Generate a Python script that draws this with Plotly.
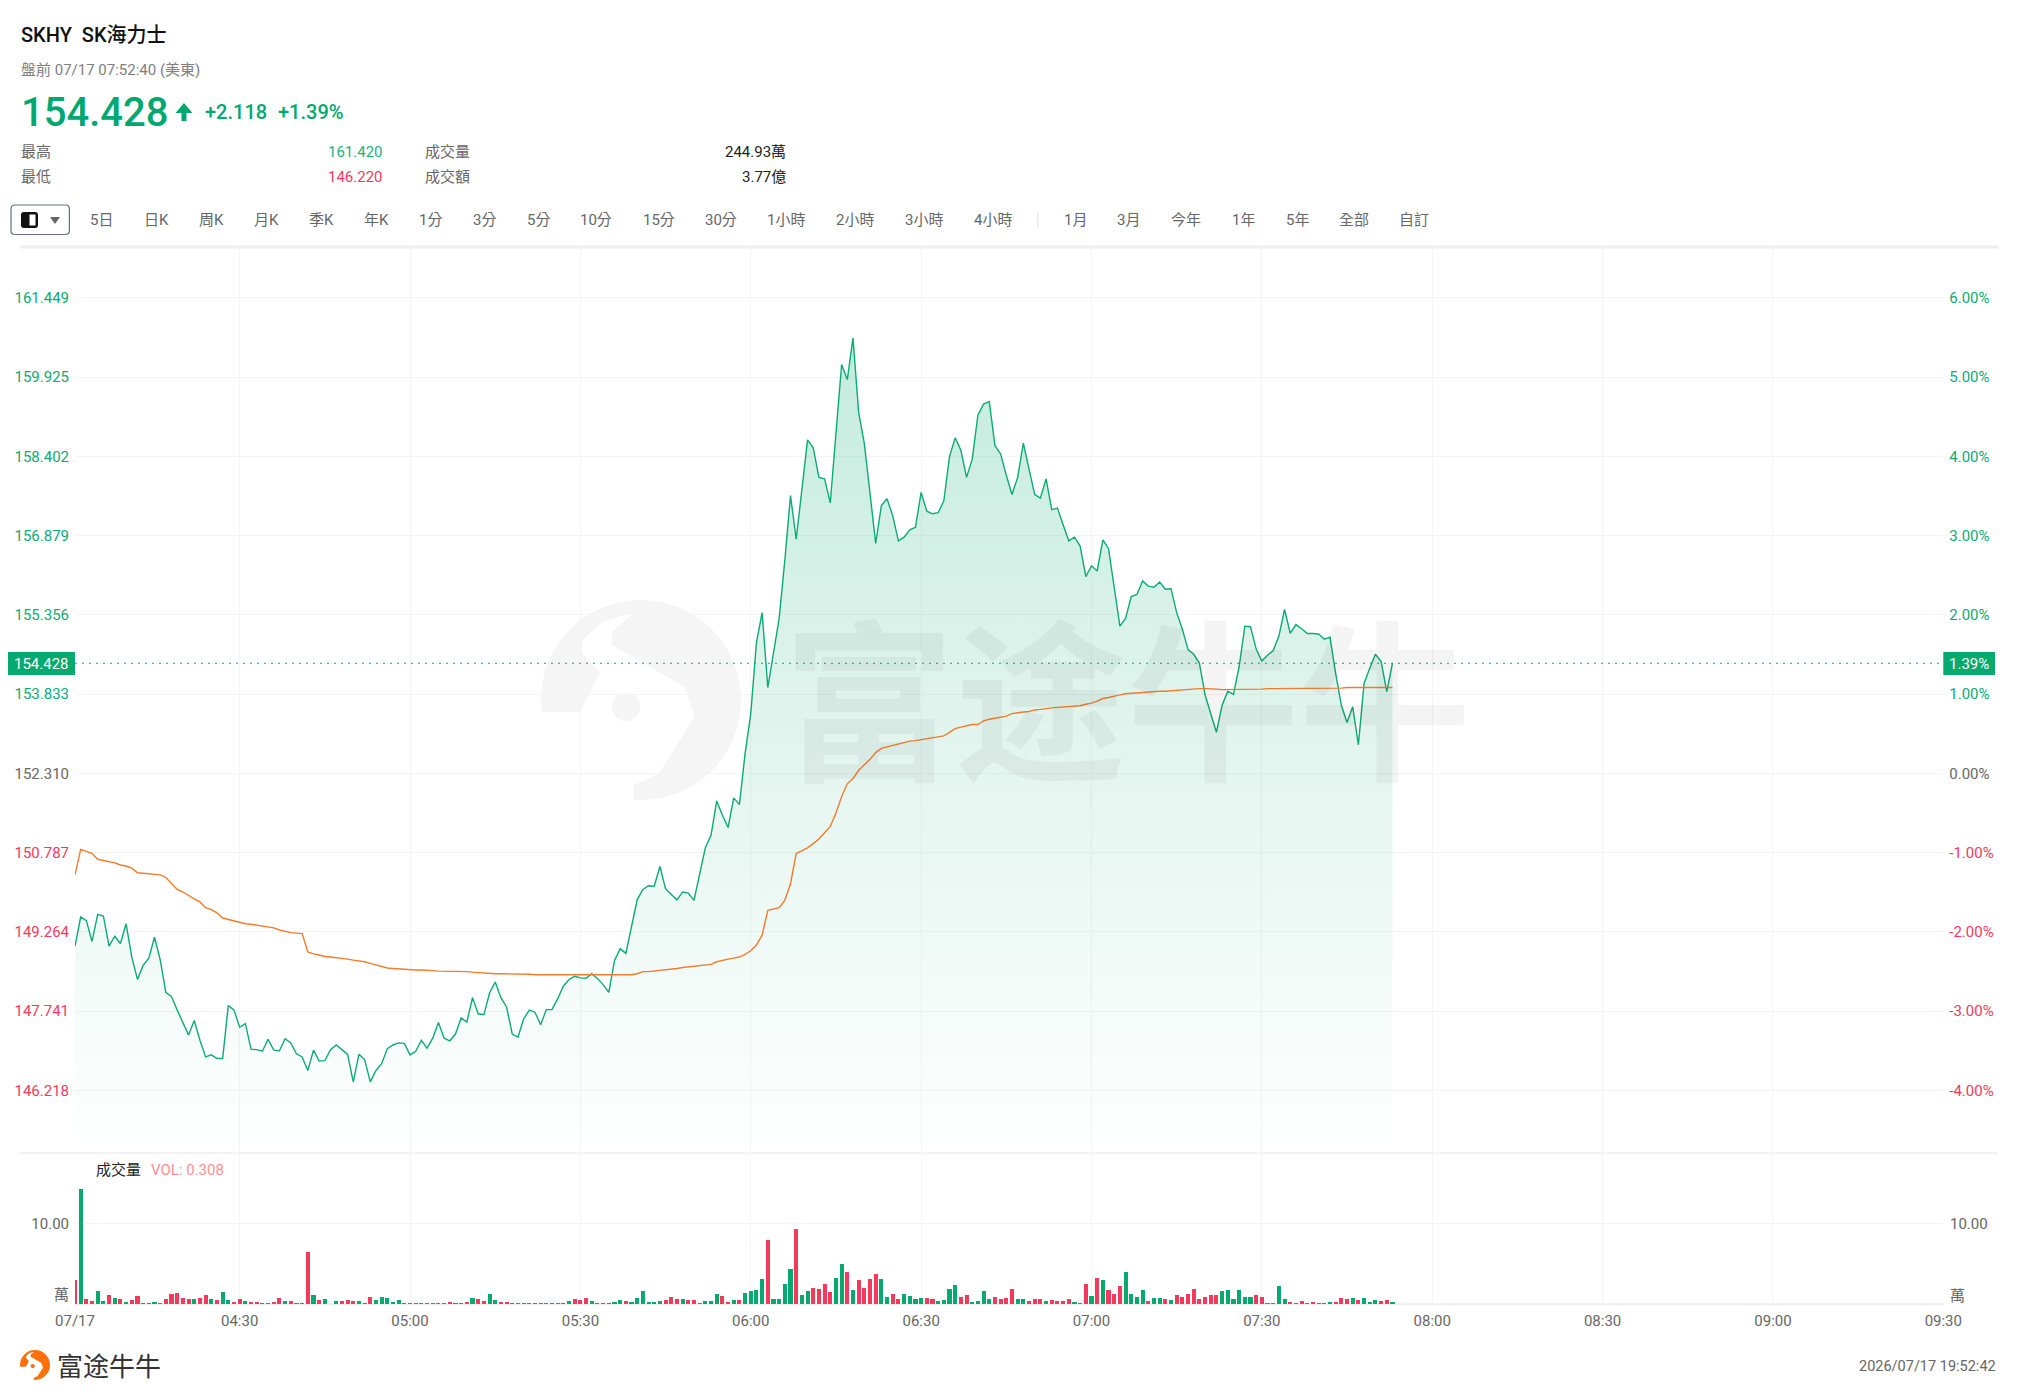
import plotly.graph_objects as go

W, H = 2018, 1399
FONT = "Roboto, 'Noto Sans CJK TC', sans-serif"
GREEN, RED, ORANGE = "#0aab76", "#f5395c", "#f47b2c"
BAR_GREEN, BAR_RED = "#06a96e", "#f33a5a"
GRID = "#f4f4f4"

# minute of session (minutes after 04:00), one per sample
minutes = list(range(1, 234))

price = [
    148.99, 149.55, 149.48, 149.08, 149.60, 149.57, 148.99, 149.18, 149.04, 149.42,
    148.78, 148.35, 148.62, 148.76, 149.16, 148.73, 148.10, 148.02, 147.76, 147.52,
    147.28, 147.56, 147.18, 146.86, 146.90, 146.83, 146.83, 147.85, 147.76, 147.43,
    147.50, 147.01, 147.00, 146.97, 147.20, 146.99, 146.98, 147.21, 147.13, 146.92,
    146.86, 146.60, 146.99, 146.78, 146.79, 147.00, 147.09, 147.00, 146.91, 146.38,
    146.91, 146.81, 146.38, 146.60, 146.73, 147.02, 147.09, 147.13, 147.12, 146.90,
    146.97, 147.18, 147.03, 147.22, 147.52, 147.22, 147.17, 147.30, 147.61, 147.53,
    148.00, 147.69, 147.67, 148.09, 148.30, 148.00, 147.82, 147.30, 147.24, 147.59,
    147.76, 147.72, 147.48, 147.77, 147.77, 147.98, 148.22, 148.35, 148.41, 148.38,
    148.37, 148.46, 148.37, 148.25, 148.10, 148.71, 148.94, 148.85, 149.36, 149.88,
    150.08, 150.15, 150.14, 150.52, 150.09, 149.99, 149.88, 150.03, 150.01, 149.87,
    150.38, 150.88, 151.12, 151.78, 151.51, 151.27, 151.84, 151.71, 152.69, 153.46,
    154.83, 155.40, 153.96, 154.62, 155.29, 156.41, 157.65, 156.81, 157.76, 158.72,
    158.57, 158.00, 157.97, 157.51, 158.84, 160.17, 159.88, 160.68, 159.25, 158.65,
    157.69, 156.73, 157.46, 157.59, 157.26, 156.78, 156.85, 156.99, 157.04, 157.71,
    157.35, 157.30, 157.32, 157.55, 158.40, 158.76, 158.52, 158.00, 158.35, 159.20,
    159.41, 159.46, 158.61, 158.45, 158.04, 157.67, 158.00, 158.66, 158.16, 157.67,
    157.60, 157.97, 157.38, 157.41, 157.09, 156.78, 156.85, 156.68, 156.09, 156.30,
    156.20, 156.80, 156.63, 155.84, 155.14, 155.29, 155.71, 155.75, 156.01, 155.91,
    155.89, 155.99, 155.85, 155.86, 155.40, 155.08, 154.69, 154.60, 154.43, 153.82,
    153.46, 153.10, 153.62, 153.89, 153.83, 154.36, 155.14, 155.13, 154.70, 154.47,
    154.58, 154.67, 154.95, 155.46, 155.00, 155.17, 155.09, 155.00, 155.00, 154.99,
    154.89, 154.93, 154.23, 153.62, 153.29, 153.59, 152.86, 154.04, 154.33, 154.60,
    154.46, 153.88, 154.428,
]

avg_price = [
    150.36, 150.85, 150.81, 150.77, 150.66, 150.64, 150.62, 150.59, 150.55, 150.53,
    150.49, 150.40, 150.39, 150.38, 150.38, 150.36, 150.31, 150.20, 150.08, 150.03,
    149.96, 149.90, 149.84, 149.73, 149.69, 149.63, 149.53, 149.50, 149.48, 149.45,
    149.42, 149.41, 149.39, 149.38, 149.36, 149.34, 149.30, 149.27, 149.25, 149.24,
    149.23, 148.88, 148.84, 148.82, 148.79, 148.78, 148.77, 148.76, 148.74, 148.72,
    148.71, 148.69, 148.66, 148.63, 148.60, 148.57, 148.56, 148.55, 148.55, 148.54,
    148.53, 148.53, 148.53, 148.52, 148.51, 148.51, 148.51, 148.50, 148.50, 148.50,
    148.49, 148.48, 148.48, 148.47, 148.46, 148.46, 148.46, 148.45, 148.45, 148.45,
    148.45, 148.44, 148.44, 148.44, 148.44, 148.44, 148.44, 148.44, 148.44, 148.43,
    148.43, 148.43, 148.43, 148.43, 148.43, 148.44, 148.44, 148.44, 148.44, 148.46,
    148.50, 148.50, 148.51, 148.52, 148.53, 148.55, 148.56, 148.58, 148.59, 148.60,
    148.61, 148.62, 148.64, 148.69, 148.72, 148.74, 148.76, 148.78, 148.83, 148.90,
    149.01, 149.20, 149.68, 149.71, 149.73, 149.87, 150.19, 150.77, 150.82, 150.88,
    150.96, 151.05, 151.17, 151.29, 151.55, 151.86, 152.11, 152.21, 152.37, 152.47,
    152.58, 152.71, 152.79, 152.82, 152.85, 152.87, 152.91, 152.93, 152.94, 152.96,
    152.98, 153.00, 153.02, 153.03, 153.10, 153.17, 153.20, 153.23, 153.25, 153.25,
    153.32, 153.35, 153.37, 153.39, 153.41, 153.46, 153.48, 153.49, 153.50, 153.53,
    153.54, 153.56, 153.57, 153.58, 153.59, 153.60, 153.60, 153.61, 153.64, 153.66,
    153.70, 153.75, 153.77, 153.80, 153.82, 153.84, 153.85, 153.86, 153.87, 153.875,
    153.88, 153.89, 153.89, 153.90, 153.91, 153.92, 153.92, 153.94, 153.94, 153.94,
    153.94, 153.93, 153.92, 153.92, 153.92, 153.925, 153.93, 153.93, 153.93, 153.93,
    153.94, 153.94, 153.95, 153.95, 153.95, 153.95, 153.95, 153.95, 153.95, 153.95,
    153.95, 153.95, 153.95, 153.95, 153.96, 153.96, 153.96, 153.96, 153.96, 153.96,
    153.96, 153.96, 153.96,
]

# volume, in units of 10 thousand shares
volume = [
    3.0, 14.2, 0.7, 0.37, 1.7, 0.41, 1.1, 0.75, 0.66, 0.33,
    0.54, 1.07, 0.2, 0.12, 0.25, 0.2, 0.7, 1.24, 1.45, 0.83,
    0.7, 0.7, 0.79, 1.2, 0.62, 0.58, 1.49, 0.54, 0.33, 0.66,
    0.45, 0.25, 0.33, 0.17, 0.2, 0.29, 0.74, 0.37, 0.37, 0.2,
    0.17, 6.4, 1.12, 0.5, 0.7, 0.08, 0.37, 0.37, 0.5, 0.41,
    0.37, 0.17, 0.95, 0.58, 0.87, 0.83, 0.33, 0.5, 0.2, 0.2,
    0.17, 0.12, 0.2, 0.12, 0.17, 0.12, 0.33, 0.12, 0.12, 0.29,
    0.83, 0.62, 0.37, 1.32, 0.58, 0.25, 0.29, 0.2, 0.17, 0.2,
    0.12, 0.12, 0.12, 0.12, 0.2, 0.12, 0.2, 0.37, 0.7, 0.5,
    0.79, 0.41, 0.12, 0.17, 0.12, 0.33, 0.54, 0.41, 0.25, 0.74,
    1.7, 0.25, 0.25, 0.45, 0.54, 0.9, 0.66, 0.62, 0.5, 0.5,
    0.2, 0.45, 0.45, 1.32, 1.07, 0.33, 0.54, 0.58, 1.4, 1.6,
    1.78, 3.1, 8.0, 0.7, 0.62, 2.48, 4.3, 9.26, 1.2, 1.6,
    2.02, 1.9, 2.48, 1.57, 3.3, 4.92, 3.97, 1.78, 3.06, 1.98,
    3.1, 3.76, 3.1, 0.95, 1.24, 0.62, 1.32, 1.0, 0.62, 0.74,
    0.74, 0.62, 0.37, 0.58, 1.86, 2.36, 0.95, 1.16, 0.33, 0.45,
    1.7, 0.7, 0.87, 0.7, 0.74, 1.86, 0.7, 0.7, 0.45, 0.66,
    0.66, 0.37, 0.58, 0.41, 0.37, 0.66, 0.33, 0.2, 2.48, 1.0,
    3.22, 3.06, 1.82, 1.24, 2.23, 3.93, 1.32, 0.95, 1.74, 0.41,
    0.74, 0.83, 0.66, 0.58, 1.12, 0.87, 1.24, 1.86, 0.7, 0.9,
    1.12, 1.16, 1.7, 1.74, 0.66, 1.74, 0.9, 0.9, 1.12, 0.87,
    0.2, 0.2, 2.23, 0.66, 0.33, 0.12, 0.37, 0.2, 0.29, 0.12,
    0.2, 0.25, 0.33, 0.74, 0.7, 0.74, 0.54, 0.79, 0.33, 0.5,
    0.37, 0.58, 0.308,
]

volume_side = list(
    "rgrrggrgrg" "rrgggrrrrr" "rgrrgrggrr" "grrggrrgrr" "rrgrgggrrr"
    "grrgggggrr" "ggrrgrrggr" "grrggrrrrg" "grrgggggrr" "rgrrrggrgg"
    "ggggrrrgrr" "ggggrrgrgg" "ggrggggrgg" "rrrrggrgrr" "rrggrrgggg"
    "rrggggrrgg" "ggrrrrggrr" "rgrrrrgrrg" "rgrrrggggr" "ggrgrrrrrr"
    "rrggggggrr" "ggggrgrrrg" "rgrrrgrggg" "rrg"
)

prev_close = 152.31
price_ticks = [161.449, 159.925, 158.402, 156.879, 155.356, 153.833, 152.310, 150.787, 149.264, 147.741, 146.218]
price_tick_labels = ["161.449", "159.925", "158.402", "156.879", "155.356", "153.833", "152.310", "150.787", "149.264", "147.741", "146.218"]
pct_ticks = [6, 5, 4, 3, 2, 1, 0, -1, -2, -3, -4]
pct_tick_labels = ["6.00%", "5.00%", "4.00%", "3.00%", "2.00%", "1.00%", "0.00%", "-1.00%", "-2.00%", "-3.00%", "-4.00%"]
time_ticks = [1, 30, 60, 90, 120, 150, 180, 210, 240, 270, 300, 330]
time_tick_labels = ["07/17", "04:30", "05:00", "05:30", "06:00", "06:30", "07:00", "07:30", "08:00", "08:30", "09:00", "09:30"]
toolbar_labels = ["5日", "日K", "周K", "月K", "季K", "年K", "1分", "3分", "5分", "10分", "15分", "30分",
                  "1小時", "2小時", "3小時", "4小時", "1月", "3月", "今年", "1年", "5年", "全部", "自訂"]
toolbar_x = [101.5, 156.6, 211, 266, 321, 376, 430.6, 484, 538, 596, 659, 721,
             786, 855, 924, 993, 1075, 1128.6, 1186, 1243, 1297, 1353.6, 1414]

assert len(price) == len(avg_price) == len(volume) == len(volume_side) == len(minutes)

def X(px): return px / W
def Y(py): return 1 - py / H

def tint(v, label):
    c = GREEN if v > prev_close + 1e-6 else (RED if v < prev_close - 1e-6 else "#666666")
    return f'<span style="color:{c}">{label}</span>'

plot_left, plot_right = 75.0, 1943.3
main_top, main_bottom, vol_bottom = 247.0, 1153.3, 1304.3
x_range = [1, 330]
y_range = [145.008, 162.428]
pct_range = [(v / prev_close - 1) * 100 for v in y_range]
vol_range = [0, (vol_bottom - main_bottom) / 8.1]

fig = go.Figure()
fig.add_trace(go.Scatter(
    x=minutes, y=price, mode="lines", line=dict(color=GREEN, width=1.4),
    fill="tozeroy",
    fillgradient=dict(type="vertical", start=145.0, stop=161.0,
                      colorscale=[[0, "rgba(0,168,111,0)"], [1, "rgba(0,168,111,0.235)"]]),
    hoverinfo="skip", showlegend=False))
fig.add_trace(go.Scatter(x=minutes, y=avg_price, mode="lines",
                         line=dict(color=ORANGE, width=1.4), hoverinfo="skip", showlegend=False))
fig.add_trace(go.Scatter(x=[x_range[0], x_range[1]], y=[price[-1], price[-1]], mode="lines",
                         line=dict(color=GREEN, width=1.1, dash="2px,5px"), hoverinfo="skip", showlegend=False))
fig.add_trace(go.Scatter(x=minutes, y=[(p / prev_close - 1) * 100 for p in price], yaxis="y3", mode="lines",
                         line=dict(color="rgba(0,0,0,0)", width=0), hoverinfo="skip", showlegend=False))
fig.add_trace(go.Bar(x=minutes, y=volume, yaxis="y2", width=0.72,
                     marker=dict(color=[BAR_GREEN if s == "g" else BAR_RED for s in volume_side], line=dict(width=0)),
                     hoverinfo="skip", showlegend=False))

anns, shapes = [], []

def text(x, y, s, size=15, color="#666666", anchor="left", family=FONT, weight=400):
    anns.append(dict(x=X(x), y=Y(y), xref="paper", yref="paper", text=s, showarrow=False,
                     xanchor=anchor, yanchor="middle", borderpad=0,
                     font=dict(size=size, color=color, family=family, weight=weight)))

def path(points, fill, line=None, width=0, layer="above", close=True):
    d = "M " + " L ".join(f"{X(a):.6f},{Y(b):.6f}" for a, b in points) + (" Z" if close else "")
    shapes.append(dict(type="path", xref="paper", yref="paper", path=d, fillcolor=fill, layer=layer,
                       line=dict(color=line or "rgba(0,0,0,0)", width=width)))

def round_rect(x0, y0, x1, y1, r, fill, line=None, width=0):
    def p(a, b): return f"{X(a):.6f},{Y(b):.6f}"
    d = (f"M {p(x0 + r, y0)} L {p(x1 - r, y0)} Q {p(x1, y0)} {p(x1, y0 + r)} L {p(x1, y1 - r)} "
         f"Q {p(x1, y1)} {p(x1 - r, y1)} L {p(x0 + r, y1)} Q {p(x0, y1)} {p(x0, y1 - r)} "
         f"L {p(x0, y0 + r)} Q {p(x0, y0)} {p(x0 + r, y0)} Z")
    shapes.append(dict(type="path", xref="paper", yref="paper", path=d, fillcolor=fill, layer="above",
                       line=dict(color=line or "rgba(0,0,0,0)", width=width)))

def rect(x0, y0, x1, y1, fill, line=None, width=0, layer="above"):
    shapes.append(dict(type="rect", xref="paper", yref="paper", x0=X(x0), x1=X(x1), y0=Y(y0), y1=Y(y1),
                       fillcolor=fill, layer=layer, line=dict(color=line or "rgba(0,0,0,0)", width=width)))

def ellipse(cx, cy, rx, ry, fill, layer="above"):
    shapes.append(dict(type="circle", xref="paper", yref="paper", x0=X(cx - rx), x1=X(cx + rx),
                       y0=Y(cy + ry), y1=Y(cy - ry), fillcolor=fill, layer=layer,
                       line=dict(color="rgba(0,0,0,0)", width=0)))

def hline(x0, x1, y, color, width):
    shapes.append(dict(type="line", xref="paper", yref="paper", x0=X(x0), x1=X(x1), y0=Y(y), y1=Y(y),
                       line=dict(color=color, width=width), layer="below"))

logo_cut = [(635, 612), (602, 622), (582, 640), (582, 653), (600, 673), (580, 712), (538, 712), (538, 807),
            (634, 807), (633, 785), (643.5, 781), (659, 773), (694.5, 717), (685, 687), (612, 645), (612, 632)]

def logo(cx, cy, scale, color, back, layer):
    ellipse(cx, cy, 100 * scale, 100 * scale, color, layer)
    path([(cx + (a - 641) * scale, cy + (b - 700) * scale) for a, b in logo_cut], back, layer=layer)
    ellipse(cx + (626 - 641) * scale, cy + (707 - 700) * scale, 14 * scale, 14 * scale, color, layer)

# watermark
logo(641, 700, 1.0, "#f5f5f5", "#ffffff", "below")
text(1127, 692, "<b>富途牛牛</b>", size=172, color="rgba(0,0,0,0.042)", anchor="center",
     family="'Noto Sans CJK SC', sans-serif")

# header
text(20, 35, "SKHY  SK海力士", size=20, color="#111111", weight=500)
text(20, 70, "盤前 07/17 07:52:40 (美東)", size=15, color="#808080")
text(20, 113, "154.428", size=40, color="#00a86f", weight=500)
path([(184, 103), (192.5, 113), (186.5, 113), (186.5, 121), (181.5, 121), (181.5, 113), (175.5, 113)], "#00a86f")
text(204, 112.5, "+2.118", size=20, color="#00a86f", weight=500)
text(276.5, 112.5, "+1.39%", size=20, color="#00a86f", weight=500)
text(20, 152, "最高")
text(20, 177, "最低")
text(384, 152, "161.420", color="#19b27c", anchor="right")
text(384, 177, "146.220", color=RED, anchor="right")
text(423.5, 152, "成交量")
text(423.5, 177, "成交額")
text(787, 152, "244.93萬", color="#222222", anchor="right")
text(787, 177, "3.77億", color="#222222", anchor="right")

# toolbar
round_rect(11, 205, 69.4, 234.5, 4, "#ffffff", "#5f6f85", 1.2)
round_rect(21, 212, 38, 228, 3, "#111111")
rect(29.5, 214.5, 35.5, 225.5, "#ffffff")
path([(50, 217), (60, 217), (55, 224)], "#666666")
for cx, lab in zip(toolbar_x, toolbar_labels):
    text(cx, 220, lab, anchor="center")
shapes.append(dict(type="line", xref="paper", yref="paper", x0=X(1038), x1=X(1038), y0=Y(213), y1=Y(227),
                   line=dict(color="#dddddd", width=1)))

# panel frames
hline(20, 1998, main_top, "#eeeeee", 3)
hline(20, 1998, main_bottom, "#f1f1f1", 2)
hline(plot_left, plot_right, vol_bottom, "#eeeeee", 2)

# price labels on both axes
rect(8, 652, plot_left, 675, "#06a96e")
text((8 + plot_left) / 2, 663.5, f"{price[-1]:.3f}", size=15, color="#ffffff", anchor="center")
rect(plot_right, 652, 1995, 675, "#06a96e")
text((plot_right + 1995) / 2, 663.5, "1.39%", size=15, color="#ffffff", anchor="center")

# volume panel text
text(95, 1170, "成交量", color="#222222")
text(150, 1170, "VOL: 0.308", color="#ff8f8f")
text(69.5, 1295, "萬", size=15, anchor="right")
text(1949, 1296, "萬", size=15)
text(1949, 1223.5, "10.00", size=15)

# footer
logo(35, 1365, 0.15, "#ff6f0a", "#ffffff", "above")
text(56, 1364, "富途牛牛", size=26, color="#333333", family="'Noto Sans CJK SC', sans-serif")
text(1997, 1366.5, "2026/07/17 19:52:42", size=14.5, anchor="right")

axis_font = dict(size=15, family=FONT, color="#666666")
fig.update_layout(
    width=W, height=H, autosize=False, margin=dict(l=0, r=0, t=0, b=0, pad=0, autoexpand=False),
    paper_bgcolor="#ffffff", plot_bgcolor="rgba(0,0,0,0)", showlegend=False,
    font=dict(family=FONT), bargap=0, annotations=anns, shapes=shapes,
    xaxis=dict(domain=[plot_left / W, plot_right / W], range=x_range, anchor="y2", tickmode="array",
               tickvals=time_ticks, ticktext=time_tick_labels, tickfont=axis_font, showgrid=True,
               gridcolor=GRID, gridwidth=1, zeroline=False, showline=False, ticks="", ticklabelstandoff=6,
               fixedrange=True, automargin=False),
    yaxis=dict(domain=[Y(main_bottom), Y(main_top)], range=y_range, anchor="x", side="left", tickmode="array",
               tickvals=price_ticks, ticktext=[tint(v, s) for v, s in zip(price_ticks, price_tick_labels)],
               tickfont=axis_font, showgrid=True, gridcolor=GRID, gridwidth=1, zeroline=False, showline=False,
               ticks="", ticklabelstandoff=5, fixedrange=True, automargin=False),
    yaxis2=dict(domain=[Y(vol_bottom), Y(main_bottom)], range=vol_range, anchor="x", side="left", tickmode="array",
                tickvals=[10], ticktext=["10.00"], tickfont=axis_font, showgrid=True, gridcolor=GRID, gridwidth=1,
                zeroline=False, showline=False, ticks="", ticklabelstandoff=5, fixedrange=True, automargin=False),
    yaxis3=dict(overlaying="y", range=pct_range, anchor="x", side="right", tickmode="array", tickvals=pct_ticks,
                ticktext=[tint(prev_close * (1 + v / 100), s) for v, s in zip(pct_ticks, pct_tick_labels)],
                tickfont=axis_font, showgrid=False, zeroline=False, showline=False, ticks="", ticklabelstandoff=5,
                fixedrange=True, automargin=False),
)

fig.write_html("out.html", config=dict(displayModeBar=False, staticPlot=True),
               post_script="document.body.style.margin='0';document.body.style.overflow='hidden';")
